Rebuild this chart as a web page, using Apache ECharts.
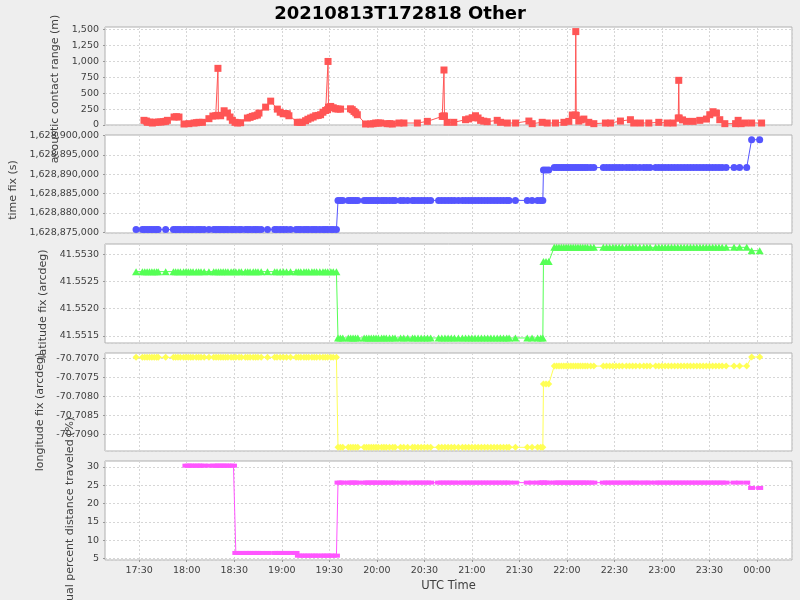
<!DOCTYPE html>
<html><head><meta charset="utf-8">
<script src="https://cdn.jsdelivr.net/npm/echarts@6/dist/echarts.min.js"></script>
<style>html,body{margin:0;padding:0;background:#eeeeee}#c{width:800px;height:600px}</style>
</head><body><div id="c"></div>
<script>
// ---------- DATA (time in minutes after 2021-08-13 17:00 UTC) ----------
const chartTitle = '20210813T172818 Other';
const xTickLabels = ['17:30','18:00','18:30','19:00','19:30','20:00','20:30','21:00','21:30','22:00','22:30','23:00','23:30','00:00'];
const xTickStartMinute = 30, xTickStepMinutes = 30;
const axisTitles = ['acoustic contact range (m)','time fix (s)','latitude fix (arcdeg)','longitude fix (arcdeg)','actual percent distance traveled (%)'];
const xAxisTitle = 'UTC Time';

const rangeMinutes = [33.0,34.5,35.2,36.8,38.3,40.4,42,43.6,45.2,46.7,
 47.8,52,53.5,55.1,58.3,61.4,64.6,66.2,67.7,69.9,
 74,76.5,78.3,79.4,79.7,80,81.4,83.6,85.7,87.3,
 88.8,90.5,92,94,98.3,100,101.4,103,104.6,105.6,
 109.8,113,117.2,119,120.9,122,123.5,124.5,129.8,131.5,
 133,135,136.5,138.2,139.8,141.4,143,144.5,146,147.7,
 148.9,149.2,149.5,150.9,152.5,154,155.5,157.1,163.4,164.5,
 165.6,166.7,167.7,172.9,176.1,177.7,179.3,181,182.4,186.6,
 188.2,189.8,194,197.1,205.6,211.9,221.3,222.1,222.4,222.7,
 224.4,228.6,236,238,240.2,242.3,243.9,245.5,247.5,249.7,
 256,258.1,262.4,267.6,276,278.1,284.4,287.6,292.8,298.1,
 301.2,303.4,305.3,305.6,305.9,307.5,309,310.7,313.8,317,
 324.3,327.5,333.8,340.1,342.2,346.4,351.7,358,363.3,367.1,
 370.3,370.6,370.9,373,375.5,379.7,383.9,388.1,390.2,392.3,
 394.4,396.5,399.7,406.5,408.1,410,412.4,416.6,422.9];
const rangeMeters = [73,62,42,47,31,42,47,47,52,57,
 73,125,130,125,16,21,31,36,42,42,
 99,140,145,150,888,150,145,223,187,125,
 73,42,31,36,109,120,135,145,156,187,
 280,374,249,200,176,180,176,145,42,42,
 42,67,90,109,125,145,150,161,200,228,
 240,996,280,291,270,254,250,249,254,240,
 213,190,161,16,16,21,31,31,31,21,
 21,16,31,31,31,57,135,140,862,140,
 42,42,83,95,114,145,110,73,60,52,
 73,42,31,31,62,21,42,31,31,42,
 57,156,156,1464,150,62,80,93,42,21,
 31,31,62,83,31,31,31,42,31,31,
 109,700,109,80,57,57,73,93,161,208,
 187,83,21,21,73,21,31,31,31];

const fixMinutes = [
 28,32,33.5,35,36.5,38,39.5,41,42,46.7,
 51.6,53,54.5,56,58,59.5,61,62.5,64,66,
 67.5,69,71,74,77,78.5,80,81.5,83,84.5,
 86,88,89.5,91,93,94.5,97,98.5,100,102,
 103.5,105,107,111,115.5,117,119,121,123,125.5,
 129,130.5,132,134,135.5,137,139,140.5,142,144,
 146,147.5,149,151,152.5,154.5,
 155.5,157,158.5,162,163.5,165,166.5,168,172,173.5,
 175,176.5,178,179.5,181,183,184.5,186,188,190,
 191.5,195,197,199.5,202.5,204,206,208,210,212,
 214,219,221,223,225,227,229,231.5,234,236,
 238,240,242,244,246,248,250,252,254,256,
 258,260,262,263.5,267.5,275,278,281.5,283.5,284.8,
 285.2,286.8,288.5,
 292,293.5,295,296.5,298,299.5,301,302.5,304,305.5,
 307,308.5,310,311.5,313,315,317,323,325,327,
 329,331,333,335,337.5,339.5,341.5,343.5,346,348.5,
 350.5,352.5,356,358,360,362,364,366,368,370,
 372,374,376,378,380,382,384,386,388,390,
 392,394,396,398,400.5,405.5,409,413.5,
 416.6,421.7];

const timeFixSeconds = [
 1628875698,1628875698,1628875698,1628875698,1628875698,1628875698,1628875698,1628875698,1628875698,1628875698,
 1628875698,1628875698,1628875698,1628875698,1628875698,1628875698,1628875698,1628875698,1628875698,1628875698,
 1628875698,1628875698,1628875698,1628875698,1628875698,1628875698,1628875698,1628875698,1628875698,1628875698,
 1628875698,1628875698,1628875698,1628875698,1628875698,1628875698,1628875698,1628875698,1628875698,1628875698,
 1628875698,1628875698,1628875698,1628875698,1628875698,1628875698,1628875698,1628875698,1628875698,1628875698,
 1628875698,1628875698,1628875698,1628875698,1628875698,1628875698,1628875698,1628875698,1628875698,1628875698,
 1628875698,1628875698,1628875698,1628875698,1628875698,1628875698,
 1628883255,1628883255,1628883255,1628883255,1628883255,1628883255,1628883255,1628883255,1628883255,1628883255,
 1628883255,1628883255,1628883255,1628883255,1628883255,1628883255,1628883255,1628883255,1628883255,1628883255,
 1628883255,1628883255,1628883255,1628883255,1628883255,1628883255,1628883255,1628883255,1628883255,1628883255,
 1628883255,1628883255,1628883255,1628883255,1628883255,1628883255,1628883255,1628883255,1628883255,1628883255,
 1628883255,1628883255,1628883255,1628883255,1628883255,1628883255,1628883255,1628883255,1628883255,1628883255,
 1628883255,1628883255,1628883255,1628883255,1628883255,1628883255,1628883255,1628883255,1628883255,1628883255,
 1628891146,1628891146,1628891146,
 1628891745,1628891745,1628891745,1628891745,1628891745,1628891745,1628891745,1628891745,1628891745,1628891745,
 1628891745,1628891745,1628891745,1628891745,1628891745,1628891745,1628891745,1628891745,1628891745,1628891745,
 1628891745,1628891745,1628891745,1628891745,1628891745,1628891745,1628891745,1628891745,1628891745,1628891745,
 1628891745,1628891745,1628891745,1628891745,1628891745,1628891745,1628891745,1628891745,1628891745,1628891745,
 1628891745,1628891745,1628891745,1628891745,1628891745,1628891745,1628891745,1628891745,1628891745,1628891745,
 1628891745,1628891745,1628891745,1628891745,1628891745,1628891745,1628891745,1628891745,
 1628898958,1628898958];

const latitudeFix = [
 41.552678,41.552678,41.552678,41.552678,41.552678,41.552678,41.552678,41.552678,41.552678,41.552678,
 41.552678,41.552678,41.552678,41.552678,41.552678,41.552678,41.552678,41.552678,41.552678,41.552678,
 41.552678,41.552678,41.552678,41.552678,41.552678,41.552678,41.552678,41.552678,41.552678,41.552678,
 41.552678,41.552678,41.552678,41.552678,41.552678,41.552678,41.552678,41.552678,41.552678,41.552678,
 41.552678,41.552678,41.552678,41.552678,41.552678,41.552678,41.552678,41.552678,41.552678,41.552678,
 41.552678,41.552678,41.552678,41.552678,41.552678,41.552678,41.552678,41.552678,41.552678,41.552678,
 41.552678,41.552678,41.552678,41.552678,41.552678,41.552678,
 41.551463,41.551463,41.551463,41.551463,41.551463,41.551463,41.551463,41.551463,41.551463,41.551463,
 41.551463,41.551463,41.551463,41.551463,41.551463,41.551463,41.551463,41.551463,41.551463,41.551463,
 41.551463,41.551463,41.551463,41.551463,41.551463,41.551463,41.551463,41.551463,41.551463,41.551463,
 41.551463,41.551463,41.551463,41.551463,41.551463,41.551463,41.551463,41.551463,41.551463,41.551463,
 41.551463,41.551463,41.551463,41.551463,41.551463,41.551463,41.551463,41.551463,41.551463,41.551463,
 41.551463,41.551463,41.551463,41.551463,41.551463,41.551463,41.551463,41.551463,41.551463,41.551463,
 41.552862,41.552862,41.552862,
 41.553123,41.553123,41.553123,41.553123,41.553123,41.553123,41.553123,41.553123,41.553123,41.553123,
 41.553123,41.553123,41.553123,41.553123,41.553123,41.553123,41.553123,41.553123,41.553123,41.553123,
 41.553123,41.553123,41.553123,41.553123,41.553123,41.553123,41.553123,41.553123,41.553123,41.553123,
 41.553123,41.553123,41.553123,41.553123,41.553123,41.553123,41.553123,41.553123,41.553123,41.553123,
 41.553123,41.553123,41.553123,41.553123,41.553123,41.553123,41.553123,41.553123,41.553123,41.553123,
 41.553123,41.553123,41.553123,41.553123,41.553123,41.553123,41.553123,41.553123,
 41.553061,41.553061];

const longitudeFix = [
 -70.706982,-70.706982,-70.706982,-70.706982,-70.706982,-70.706982,-70.706982,-70.706982,-70.706982,-70.706982,
 -70.706982,-70.706982,-70.706982,-70.706982,-70.706982,-70.706982,-70.706982,-70.706982,-70.706982,-70.706982,
 -70.706982,-70.706982,-70.706982,-70.706982,-70.706982,-70.706982,-70.706982,-70.706982,-70.706982,-70.706982,
 -70.706982,-70.706982,-70.706982,-70.706982,-70.706982,-70.706982,-70.706982,-70.706982,-70.706982,-70.706982,
 -70.706982,-70.706982,-70.706982,-70.706982,-70.706982,-70.706982,-70.706982,-70.706982,-70.706982,-70.706982,
 -70.706982,-70.706982,-70.706982,-70.706982,-70.706982,-70.706982,-70.706982,-70.706982,-70.706982,-70.706982,
 -70.706982,-70.706982,-70.706982,-70.706982,-70.706982,-70.706982,
 -70.709342,-70.709342,-70.709342,-70.709342,-70.709342,-70.709342,-70.709342,-70.709342,-70.709342,-70.709342,
 -70.709342,-70.709342,-70.709342,-70.709342,-70.709342,-70.709342,-70.709342,-70.709342,-70.709342,-70.709342,
 -70.709342,-70.709342,-70.709342,-70.709342,-70.709342,-70.709342,-70.709342,-70.709342,-70.709342,-70.709342,
 -70.709342,-70.709342,-70.709342,-70.709342,-70.709342,-70.709342,-70.709342,-70.709342,-70.709342,-70.709342,
 -70.709342,-70.709342,-70.709342,-70.709342,-70.709342,-70.709342,-70.709342,-70.709342,-70.709342,-70.709342,
 -70.709342,-70.709342,-70.709342,-70.709342,-70.709342,-70.709342,-70.709342,-70.709342,-70.709342,-70.709342,
 -70.707684,-70.707684,-70.707684,
 -70.707211,-70.707211,-70.707211,-70.707211,-70.707211,-70.707211,-70.707211,-70.707211,-70.707211,-70.707211,
 -70.707211,-70.707211,-70.707211,-70.707211,-70.707211,-70.707211,-70.707211,-70.707211,-70.707211,-70.707211,
 -70.707211,-70.707211,-70.707211,-70.707211,-70.707211,-70.707211,-70.707211,-70.707211,-70.707211,-70.707211,
 -70.707211,-70.707211,-70.707211,-70.707211,-70.707211,-70.707211,-70.707211,-70.707211,-70.707211,-70.707211,
 -70.707211,-70.707211,-70.707211,-70.707211,-70.707211,-70.707211,-70.707211,-70.707211,-70.707211,-70.707211,
 -70.707211,-70.707211,-70.707211,-70.707211,-70.707211,-70.707211,-70.707211,-70.707211,
 -70.706974,-70.706974];

const percentTraveled = [
 null,null,null,null,null,null,null,null,null,null,
 null,null,null,null,null,30.37,30.37,30.37,30.37,30.37,
 30.37,30.37,30.37,30.37,30.37,30.37,30.37,30.37,30.37,30.37,
 30.37,30.37,30.37,6.47,6.47,6.47,6.47,6.47,6.47,6.47,
 6.47,6.47,6.47,6.47,6.47,6.47,6.47,6.47,6.47,6.47,
 6.47,5.73,5.73,5.73,5.73,5.73,5.73,5.73,5.73,5.73,
 5.73,5.73,5.73,5.73,5.73,5.73,
 25.73,25.73,25.73,25.73,25.73,25.73,25.73,25.73,25.73,25.73,
 25.73,25.73,25.73,25.73,25.73,25.73,25.73,25.73,25.73,25.73,
 25.73,25.73,25.73,25.73,25.73,25.73,25.73,25.73,25.73,25.73,
 25.73,25.73,25.73,25.73,25.73,25.73,25.73,25.73,25.73,25.73,
 25.73,25.73,25.73,25.73,25.73,25.73,25.73,25.73,25.73,25.73,
 25.73,25.73,25.73,25.73,25.73,25.73,25.73,25.73,25.73,25.73,
 25.73,25.73,25.73,
 25.73,25.73,25.73,25.73,25.73,25.73,25.73,25.73,25.73,25.73,
 25.73,25.73,25.73,25.73,25.73,25.73,25.73,25.73,25.73,25.73,
 25.73,25.73,25.73,25.73,25.73,25.73,25.73,25.73,25.73,25.73,
 25.73,25.73,25.73,25.73,25.73,25.73,25.73,25.73,25.73,25.73,
 25.73,25.73,25.73,25.73,25.73,25.73,25.73,25.73,25.73,25.73,
 25.73,25.73,25.73,25.73,25.73,25.73,25.73,25.73,
 24.27,24.27];

// ---------- CHART ----------
const FONT = 'DejaVu Sans';
const TXT = '#404040';
const pairs = (xs, ys) => xs.map((x, i) => [x, ys[i]]);

const panels = [
  {top:27,  height:98, min:0,           max:1536,        step:250,    fmt:v=>Math.round(v).toLocaleString('en-US'), gap:40, shift:26, minLabel:true},
  {top:135, height:98, min:1628874820,  max:1628900180,  step:5000,   fmt:v=>Math.round(v).toLocaleString('en-US'), gap:82, shift:12, minLabel:false},
  {top:244, height:99, min:41.551371,   max:41.553184,   step:0.0005, fmt:v=>v.toFixed(4), gap:52, shift:21, minLabel:false},
  {top:353, height:98, min:-70.709439,  max:-70.706868,  step:0.0005, fmt:v=>v.toFixed(4), gap:57, shift:20, minLabel:false},
  {top:461, height:99, min:4.54,        max:31.65,       step:5,      fmt:v=>String(Math.round(v)), gap:25, shift:14, minLabel:false}
];
const seriesDefs = [
  {x:rangeMinutes, y:rangeMeters,     color:'#FF5555', symbol:'rect',     size:7},
  {x:fixMinutes,   y:timeFixSeconds,  color:'#5555FF', symbol:'circle',   size:7},
  {x:fixMinutes,   y:latitudeFix,     color:'#55FF55', symbol:'triangle', size:[8,7]},
  {x:fixMinutes,   y:longitudeFix,    color:'#FFFF55', symbol:'diamond',  size:[7,7]},
  {x:fixMinutes,   y:percentTraveled, color:'#FF55FF', symbol:'rect',     size:[7,4]}
];
const X_MIN = 8.4, X_MAX = 442.1;

const chart = echarts.init(document.getElementById('c'), null, {renderer:'canvas', width:800, height:600, devicePixelRatio:1});
chart.setOption({
  animation:false,
  backgroundColor:'#eeeeee',
  textStyle:{fontFamily:FONT},
  title:{text:chartTitle, left:'center', top:0, textStyle:{fontFamily:FONT, fontSize:18, fontWeight:'bold', color:'#000'}},
  grid: panels.map(p => ({left:105, right:8, top:p.top, height:p.height, show:true, backgroundColor:'#ffffff', borderColor:'#b0b0b0', borderWidth:1, containLabel:false, outerBoundsMode:'none'})),
  xAxis: panels.map((p, i) => ({
    type:'value', gridIndex:i, min:X_MIN, max:X_MAX, minInterval:xTickStepMinutes, maxInterval:xTickStepMinutes, splitNumber:14,
    axisLine:{show:false},
    axisTick:{show:i===4, length:2, lineStyle:{color:'#999'}},
    axisLabel:{show:i===4, showMinLabel:false, showMaxLabel:false, margin:6, fontFamily:FONT, fontSize:9.5, color:TXT,
      formatter:v => { const k = Math.round((v - xTickStartMinute) / xTickStepMinutes); return (Math.abs(v - (xTickStartMinute + k*xTickStepMinutes)) < 0.01 && xTickLabels[k]) ? xTickLabels[k] : ''; }},
    splitLine:{show:true, lineStyle:{color:'#d6d6d6', type:[2,2], width:1}},
    name: i===4 ? xAxisTitle : '', nameLocation:'middle', nameGap:20,
    nameTextStyle:{fontFamily:FONT, fontSize:11.5, color:TXT}
  })),
  yAxis: panels.map((p, i) => ({
    type:'value', gridIndex:i, min:p.min, max:p.max, minInterval:p.step, maxInterval:p.step, splitNumber:5, scale:true,
    axisLine:{show:false},
    axisTick:{show:true, length:2, lineStyle:{color:'#999'}},
    axisLabel:{showMinLabel:p.minLabel, showMaxLabel:false, margin:6, fontFamily:FONT, fontSize:9.5, color:TXT, formatter:p.fmt},
    splitLine:{show:true, lineStyle:{color:'#d6d6d6', type:[2,2], width:1}},
    name:axisTitles[i], nameLocation:'middle', nameRotate:90, nameGap:p.gap,
    nameTextStyle:{fontFamily:FONT, fontSize:11, color:TXT, padding:[0,p.shift,0,0]}
  })),
  series: seriesDefs.map((s, i) => ({
    type:'line', xAxisIndex:i, yAxisIndex:i, data:pairs(s.x, s.y),
    symbol:s.symbol, symbolSize:s.size, showSymbol:true, showAllSymbol:true, connectNulls:false,
    itemStyle:{color:s.color, borderWidth:0}, lineStyle:{color:s.color, width:1},
    silent:true, emphasis:{disabled:true}, clip:true, animation:false
  }))
});
</script>
</body></html>
